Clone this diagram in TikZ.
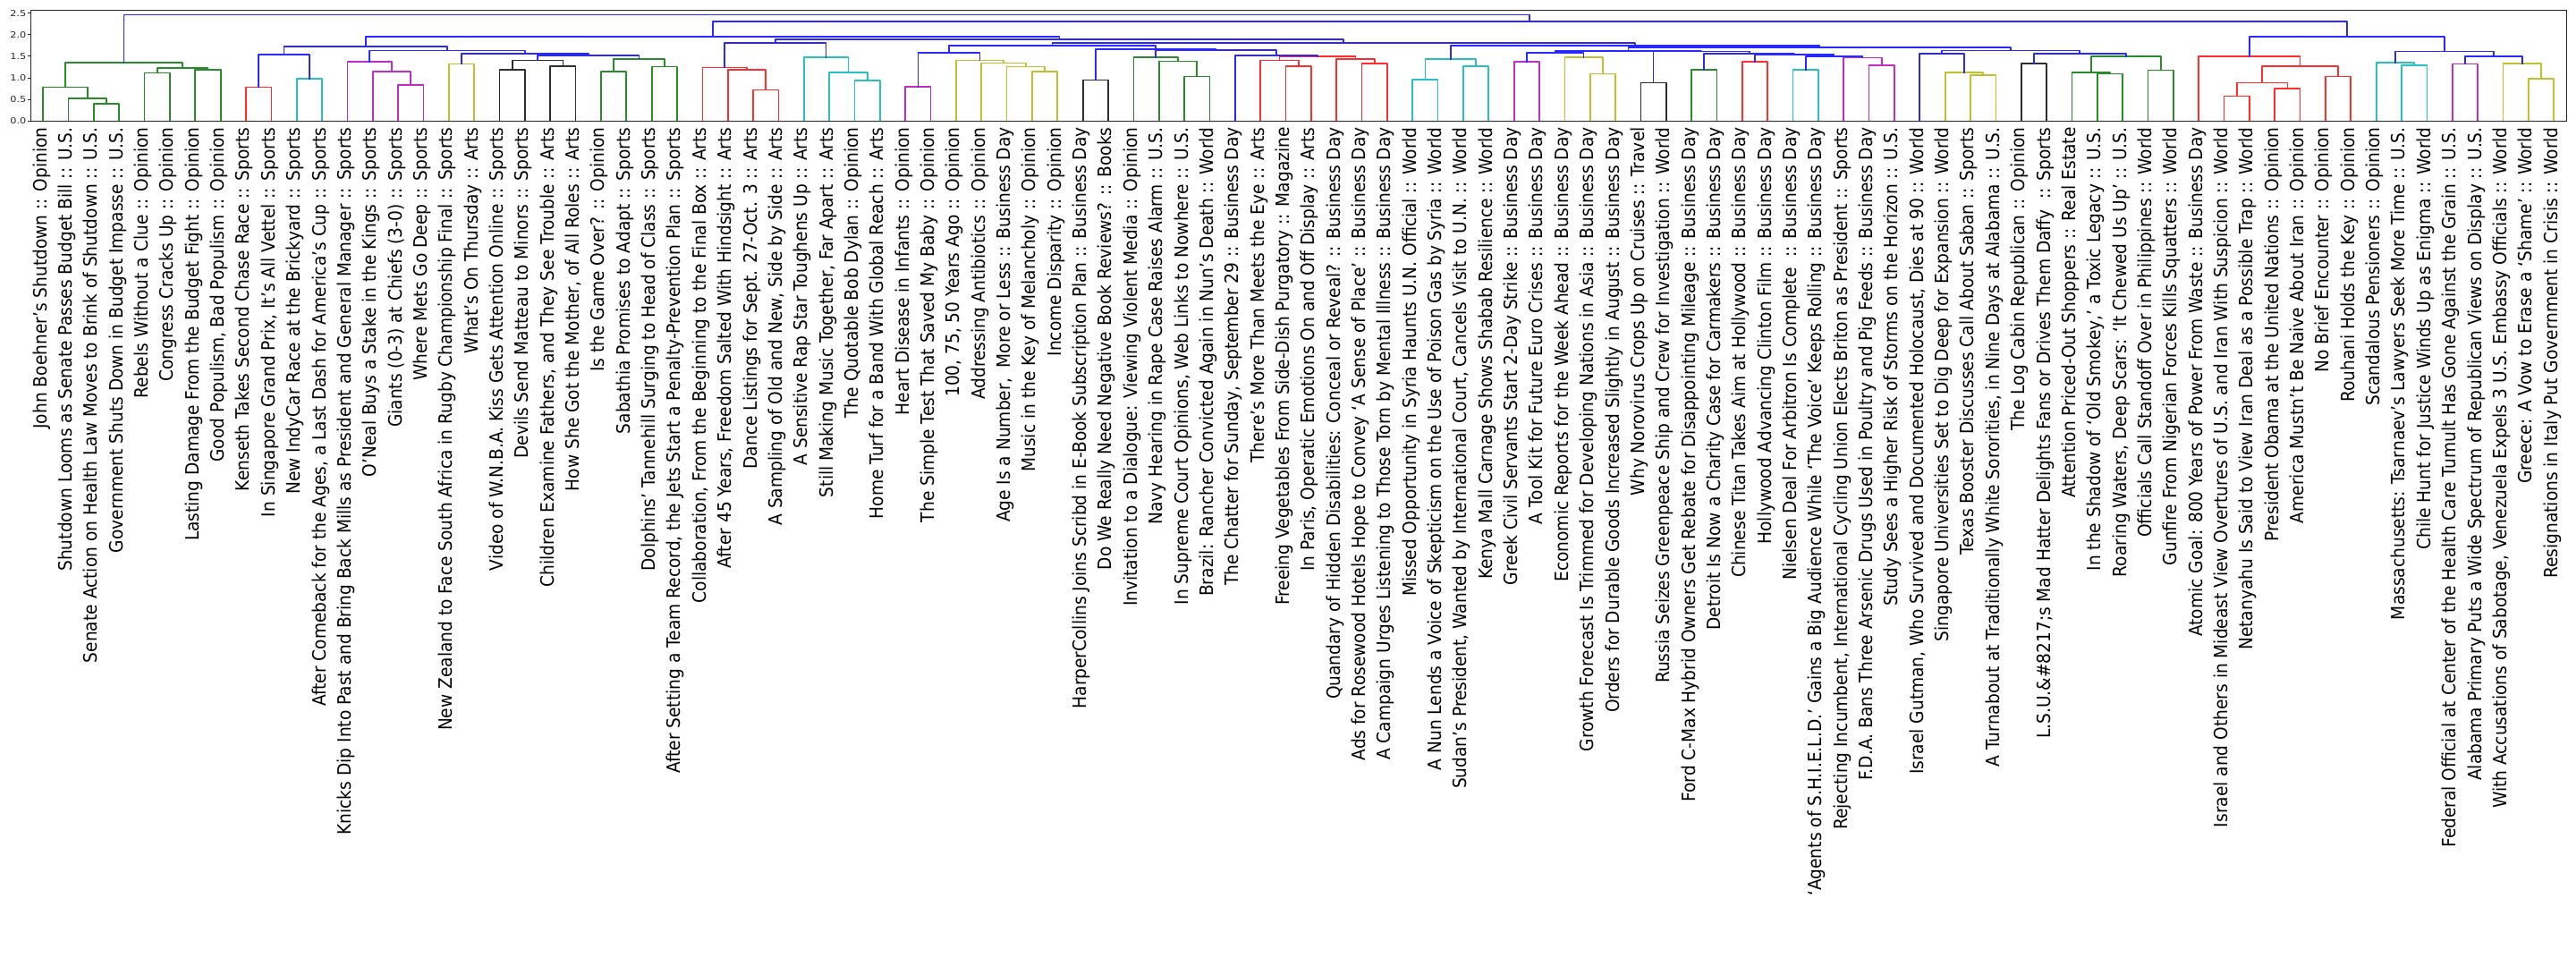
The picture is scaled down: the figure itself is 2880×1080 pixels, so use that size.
\documentclass[tikz,border=0pt]{standalone}
\usepackage{fontspec}
\setmainfont{DejaVu Sans}
\definecolor{colG}{RGB}{40,140,40}
\definecolor{colR}{RGB}{255,45,45}
\definecolor{colC}{RGB}{40,192,192}
\definecolor{colM}{RGB}{192,45,192}
\definecolor{colY}{RGB}{192,192,45}
\definecolor{colK}{RGB}{45,45,45}
\definecolor{colB}{RGB}{40,40,255}
\definecolor{spinec}{RGB}{38,38,38}
\newcommand{\lnk}[6]{\draw[link,draw=col#1] (#2,#3) -- (#2,#6) -- (#4,#6) -- (#4,#5);}
\newcommand{\leaflab}[2]{\pgfmathsetmacro\lxpos{5+10*#1}\node[lbl] (t#1) at (\lxpos,-0.14) {#2};}
\newcommand{\ytick}[2]{\draw[spine] (-1.17,#1) -- (0,#1); \node[tlbl] (y#2) at (-1.45,#1) {#1};}
\begin{document}
\begin{tikzpicture}[x=0.5pt,y=0.5pt,
  link/.style={line width=0.85pt,line join=round,line cap=rect},
  spine/.style={line width=0.5pt,draw=spinec},
  lbl/.style={rotate=90,anchor=east,inner sep=0pt,yscale=1.1,text height=0.74em,text depth=0.38em,font=\fontsize{9.3pt}{10pt}\selectfont},
  tlbl/.style={anchor=east,inner sep=0pt,xscale=1.2,font=\fontsize{4.7pt}{5pt}\selectfont,text=spinec}]
\useasboundingbox (0,0) rectangle (2880,1080);
\begin{scope}[shift={(34,944.7)},x=1.41765pt,y=24.125pt]
% green 0-7
\lnk{G}{25}{0}{35}{0}{0.400}
\lnk{G}{15}{0}{30}{0.400}{0.531}
\lnk{G}{5}{0}{22.5}{0.531}{0.780}
\lnk{G}{45}{0}{55}{0}{1.112}
\lnk{G}{65}{0}{75}{0}{1.188}
\lnk{G}{50}{1.112}{70}{1.188}{1.229}
\lnk{G}{13.75}{0.780}{60}{1.229}{1.360}
% 8-25
\lnk{R}{85}{0}{95}{0}{0.780}
\lnk{C}{105}{0}{115}{0}{0.987}
\lnk{B}{90}{0.780}{110}{0.987}{1.540}
\lnk{M}{145}{0}{155}{0}{0.842}
\lnk{M}{135}{0}{150}{0.842}{1.146}
\lnk{M}{125}{0}{142.5}{1.146}{1.374}
\lnk{Y}{165}{0}{175}{0}{1.319}
\lnk{K}{185}{0}{195}{0}{1.194}
\lnk{K}{205}{0}{215}{0}{1.277}
\lnk{K}{190}{1.194}{210}{1.277}{1.402}
\lnk{G}{225}{0}{235}{0}{1.140}
\lnk{G}{245}{0}{255}{0}{1.257}
\lnk{G}{230}{1.140}{250}{1.257}{1.443}
\lnk{B}{200}{1.402}{240}{1.443}{1.526}
\lnk{B}{170}{1.319}{220}{1.526}{1.565}
\lnk{B}{133.75}{1.374}{195}{1.565}{1.630}
\lnk{B}{100}{1.540}{164.375}{1.630}{1.733}
% 26-33
\lnk{R}{285}{0}{295}{0}{0.718}
\lnk{R}{275}{0}{290}{0.718}{1.194}
\lnk{R}{265}{0}{282.5}{1.194}{1.236}
\lnk{C}{325}{0}{335}{0}{0.932}
\lnk{C}{315}{0}{330}{0.932}{1.119}
\lnk{C}{305}{0}{322.5}{1.119}{1.471}
\lnk{B}{273.75}{1.236}{313.75}{1.471}{1.816}
% 34-53
\lnk{M}{345}{0}{355}{0}{0.794}
\lnk{Y}{395}{0}{405}{0}{1.140}
\lnk{Y}{385}{0}{400}{1.140}{1.257}
\lnk{Y}{375}{0}{392.5}{1.257}{1.340}
\lnk{Y}{365}{0}{383.75}{1.340}{1.402}
\lnk{B}{350}{0.794}{374.375}{1.402}{1.588}
\lnk{K}{415}{0}{425}{0}{0.946}
\lnk{G}{455}{0}{465}{0}{1.029}
\lnk{G}{445}{0}{460}{1.029}{1.381}
\lnk{G}{435}{0}{452.5}{1.381}{1.471}
\lnk{R}{495}{0}{505}{0}{1.277}
\lnk{R}{485}{0}{500}{1.277}{1.402}
\lnk{R}{525}{0}{535}{0}{1.326}
\lnk{R}{515}{0}{530}{1.326}{1.443}
\lnk{R}{492.5}{1.402}{522.5}{1.443}{1.505}
\lnk{B}{475}{0}{507.5}{1.505}{1.526}
\lnk{B}{443.75}{1.471}{491.25}{1.526}{1.643}
\lnk{B}{420}{0.946}{467.5}{1.643}{1.664}
\lnk{B}{362.1875}{1.588}{443.75}{1.664}{1.741}
% 54-84
\lnk{C}{545}{0}{555}{0}{0.966}
\lnk{C}{565}{0}{575}{0}{1.277}
\lnk{C}{550}{0.966}{570}{1.277}{1.443}
\lnk{M}{585}{0}{595}{0}{1.374}
\lnk{Y}{615}{0}{625}{0}{1.091}
\lnk{Y}{605}{0}{620}{1.091}{1.471}
\lnk{B}{590}{1.374}{612.5}{1.471}{1.588}
\lnk{K}{635}{0}{645}{0}{0.884}
\lnk{G}{655}{0}{665}{0}{1.188}
\lnk{R}{675}{0}{685}{0}{1.374}
\lnk{C}{695}{0}{705}{0}{1.188}
\lnk{M}{725}{0}{735}{0}{1.298}
\lnk{M}{715}{0}{730}{1.298}{1.464}
\lnk{B}{700}{1.188}{722.5}{1.464}{1.505}
\lnk{B}{680}{1.374}{711.25}{1.505}{1.540}
\lnk{B}{660}{1.188}{695.625}{1.540}{1.561}
\lnk{B}{640}{0.884}{677.8125}{1.561}{1.609}
\lnk{B}{601.25}{1.588}{658.90625}{1.609}{1.623}
\lnk{Y}{765}{0}{775}{0}{1.070}
\lnk{Y}{755}{0}{770}{1.070}{1.132}
\lnk{B}{745}{0}{762.5}{1.132}{1.567}
\lnk{K}{785}{0}{795}{0}{1.326}
\lnk{G}{815}{0}{825}{0}{1.091}
\lnk{G}{805}{0}{820}{1.091}{1.132}
\lnk{G}{835}{0}{845}{0}{1.174}
\lnk{G}{812.5}{1.132}{840}{1.174}{1.492}
\lnk{B}{790}{1.326}{826.25}{1.492}{1.567}
\lnk{B}{753.75}{1.567}{808.125}{1.567}{1.630}
\lnk{B}{630.078}{1.623}{780.9375}{1.630}{1.699}
\lnk{B}{560}{1.443}{705.508}{1.699}{1.754}
\lnk{B}{402.969}{1.741}{632.754}{1.754}{1.816}
\lnk{B}{293.75}{1.816}{517.861}{1.816}{1.885}
\lnk{B}{132.1875}{1.733}{405.806}{1.885}{1.961}
% 85-99
\lnk{R}{865}{0}{875}{0}{0.573}
\lnk{R}{885}{0}{895}{0}{0.746}
\lnk{R}{870}{0.573}{890}{0.746}{0.884}
\lnk{R}{905}{0}{915}{0}{1.029}
\lnk{R}{880}{0.884}{910}{1.029}{1.277}
\lnk{R}{855}{0}{895}{1.277}{1.492}
\lnk{C}{935}{0}{945}{0}{1.298}
\lnk{C}{925}{0}{940}{1.298}{1.360}
\lnk{M}{955}{0}{965}{0}{1.319}
\lnk{Y}{985}{0}{995}{0}{0.980}
\lnk{Y}{975}{0}{990}{0.980}{1.333}
\lnk{B}{960}{1.319}{982.5}{1.333}{1.505}
\lnk{B}{932.5}{1.360}{971.25}{1.505}{1.609}
\lnk{B}{875}{1.492}{951.875}{1.609}{1.961}
\lnk{B}{268.997}{1.961}{913.4375}{1.961}{2.307}
\lnk{B}{36.875}{1.360}{591.217}{2.307}{2.459}
% frame and ticks
\draw[spine] (0,0) rectangle (1000,2.570);
\ytick{0.0}{0}
\ytick{0.5}{1}
\ytick{1.0}{2}
\ytick{1.5}{3}
\ytick{2.0}{4}
\ytick{2.5}{5}
% leaf labels
\leaflab{0}{John Boehner’s Shutdown :: Opinion}
\leaflab{1}{Shutdown Looms as Senate Passes Budget Bill :: U.S.}
\leaflab{2}{Senate Action on Health Law Moves to Brink of Shutdown :: U.S.}
\leaflab{3}{Government Shuts Down in Budget Impasse :: U.S.}
\leaflab{4}{Rebels Without a Clue :: Opinion}
\leaflab{5}{Congress Cracks Up :: Opinion}
\leaflab{6}{Lasting Damage From the Budget Fight :: Opinion}
\leaflab{7}{Good Populism, Bad Populism :: Opinion}
\leaflab{8}{Kenseth Takes Second Chase Race :: Sports}
\leaflab{9}{In Singapore Grand Prix, It’s All Vettel :: Sports}
\leaflab{10}{New IndyCar Race at the Brickyard :: Sports}
\leaflab{11}{After Comeback for the Ages, a Last Dash for America’s Cup :: Sports}
\leaflab{12}{Knicks Dip Into Past and Bring Back Mills as President and General Manager :: Sports}
\leaflab{13}{O’Neal Buys a Stake in the Kings :: Sports}
\leaflab{14}{Giants (0-3) at Chiefs (3-0) :: Sports}
\leaflab{15}{Where Mets Go Deep :: Sports}
\leaflab{16}{New Zealand to Face South Africa in Rugby Championship Final :: Sports}
\leaflab{17}{What’s On Thursday :: Arts}
\leaflab{18}{Video of W.N.B.A. Kiss Gets Attention Online :: Sports}
\leaflab{19}{Devils Send Matteau to Minors :: Sports}
\leaflab{20}{Children Examine Fathers, and They See Trouble :: Arts}
\leaflab{21}{How She Got the Mother, of All Roles :: Arts}
\leaflab{22}{Is the Game Over? :: Opinion}
\leaflab{23}{Sabathia Promises to Adapt :: Sports}
\leaflab{24}{Dolphins’ Tannehill Surging to Head of Class :: Sports}
\leaflab{25}{After Setting a Team Record, the Jets Start a Penalty-Prevention Plan :: Sports}
\leaflab{26}{Collaboration, From the Beginning to the Final Box :: Arts}
\leaflab{27}{After 45 Years, Freedom Salted With Hindsight :: Arts}
\leaflab{28}{Dance Listings for Sept. 27-Oct. 3 :: Arts}
\leaflab{29}{A Sampling of Old and New, Side by Side :: Arts}
\leaflab{30}{A Sensitive Rap Star Toughens Up :: Arts}
\leaflab{31}{Still Making Music Together, Far Apart :: Arts}
\leaflab{32}{The Quotable Bob Dylan :: Opinion}
\leaflab{33}{Home Turf for a Band With Global Reach :: Arts}
\leaflab{34}{Heart Disease in Infants :: Opinion}
\leaflab{35}{The Simple Test That Saved My Baby :: Opinion}
\leaflab{36}{100, 75, 50 Years Ago :: Opinion}
\leaflab{37}{Addressing Antibiotics :: Opinion}
\leaflab{38}{Age Is a Number,~ More or Less :: Business Day}
\leaflab{39}{Music in the Key of Melancholy :: Opinion}
\leaflab{40}{Income Disparity :: Opinion}
\leaflab{41}{HarperCollins Joins Scribd in E-Book Subscription Plan :: Business Day}
\leaflab{42}{Do We Really Need Negative Book Reviews? :: Books}
\leaflab{43}{Invitation to a Dialogue: Viewing Violent Media :: Opinion}
\leaflab{44}{Navy Hearing in Rape Case Raises Alarm :: U.S.}
\leaflab{45}{In Supreme Court Opinions, Web Links to Nowhere :: U.S.}
\leaflab{46}{Brazil: Rancher Convicted Again in Nun’s Death :: World}
\leaflab{47}{The Chatter for Sunday, September 29 :: Business Day}
\leaflab{48}{There’s More Than Meets the Eye :: Arts}
\leaflab{49}{Freeing Vegetables From Side-Dish Purgatory :: Magazine}
\leaflab{50}{In Paris, Operatic Emotions On and Off Display :: Arts}
\leaflab{51}{Quandary of Hidden Disabilities: Conceal or Reveal? :: Business Day}
\leaflab{52}{Ads for Rosewood Hotels Hope to Convey ‘A Sense of Place’ :: Business Day}
\leaflab{53}{A Campaign Urges Listening to Those Torn by Mental Illness :: Business Day}
\leaflab{54}{Missed Opportunity in Syria Haunts U.N. Official :: World}
\leaflab{55}{A Nun Lends a Voice of Skepticism on the Use of Poison Gas by Syria :: World}
\leaflab{56}{Sudan’s President, Wanted by International Court, Cancels Visit to U.N. :: World}
\leaflab{57}{Kenya Mall Carnage Shows Shabab Resilience :: World}
\leaflab{58}{Greek Civil Servants Start 2-Day Strike :: Business Day}
\leaflab{59}{A Tool Kit for Future Euro Crises :: Business Day}
\leaflab{60}{Economic Reports for the Week Ahead :: Business Day}
\leaflab{61}{Growth Forecast Is Trimmed for Developing Nations in Asia :: Business Day}
\leaflab{62}{Orders for Durable Goods Increased Slightly in August :: Business Day}
\leaflab{63}{Why Norovirus Crops Up on Cruises :: Travel}
\leaflab{64}{Russia Seizes Greenpeace Ship and Crew for Investigation :: World}
\leaflab{65}{Ford C-Max Hybrid Owners Get Rebate for Disappointing Mileage :: Business Day}
\leaflab{66}{Detroit Is Now a Charity Case for Carmakers :: Business Day}
\leaflab{67}{Chinese Titan Takes Aim at Hollywood :: Business Day}
\leaflab{68}{Hollywood Advancing Clinton Film :: Business Day}
\leaflab{69}{Nielsen Deal For Arbitron Is Complete~ :: Business Day}
\leaflab{70}{‘Agents of S.H.I.E.L.D.’ Gains a Big Audience While ‘The Voice’ Keeps Rolling :: Business Day}
\leaflab{71}{Rejecting Incumbent, International Cycling Union Elects Briton as President :: Sports}
\leaflab{72}{F.D.A. Bans Three Arsenic Drugs Used in Poultry and Pig Feeds :: Business Day}
\leaflab{73}{Study Sees a Higher Risk of Storms on the Horizon :: U.S.}
\leaflab{74}{Israel Gutman, Who Survived and Documented Holocaust, Dies at 90 :: World}
\leaflab{75}{Singapore Universities Set to Dig Deep for Expansion :: World}
\leaflab{76}{Texas Booster Discusses Call About Saban :: Sports}
\leaflab{77}{A Turnabout at Traditionally White Sororities, in Nine Days at Alabama :: U.S.}
\leaflab{78}{The Log Cabin Republican :: Opinion}
\leaflab{79}{L.S.U.\&\#8217;s Mad Hatter Delights Fans or Drives Them Daffy~ :: Sports}
\leaflab{80}{Attention Priced-Out Shoppers :: Real Estate}
\leaflab{81}{In the Shadow of ‘Old Smokey,’ a Toxic Legacy :: U.S.}
\leaflab{82}{Roaring Waters, Deep Scars: ‘It Chewed Us Up’ :: U.S.}
\leaflab{83}{Officials Call Standoff Over in Philippines :: World}
\leaflab{84}{Gunfire From Nigerian Forces Kills Squatters :: World}
\leaflab{85}{Atomic Goal: 800 Years of Power From Waste :: Business Day}
\leaflab{86}{Israel and Others in Mideast View Overtures of U.S. and Iran With Suspicion :: World}
\leaflab{87}{Netanyahu Is Said to View Iran Deal as a Possible Trap :: World}
\leaflab{88}{President Obama at the United Nations :: Opinion}
\leaflab{89}{America Mustn’t Be Naive About Iran :: Opinion}
\leaflab{90}{No Brief Encounter :: Opinion}
\leaflab{91}{Rouhani Holds the Key :: Opinion}
\leaflab{92}{Scandalous Pensioners :: Opinion}
\leaflab{93}{Massachusetts: Tsarnaev’s Lawyers Seek More Time :: U.S.}
\leaflab{94}{Chile Hunt for Justice Winds Up as Enigma :: World}
\leaflab{95}{Federal Official at Center of the Health Care Tumult Has Gone Against the Grain :: U.S.}
\leaflab{96}{Alabama Primary Puts a Wide Spectrum of Republican Views on Display :: U.S.}
\leaflab{97}{With Accusations of Sabotage, Venezuela Expels 3 U.S. Embassy Officials :: World}
\leaflab{98}{Greece: A Vow to Erase a ‘Shame’ :: World}
\leaflab{99}{Resignations in Italy Put Government in Crisis :: World}
\end{scope}
\end{tikzpicture}
\end{document}
